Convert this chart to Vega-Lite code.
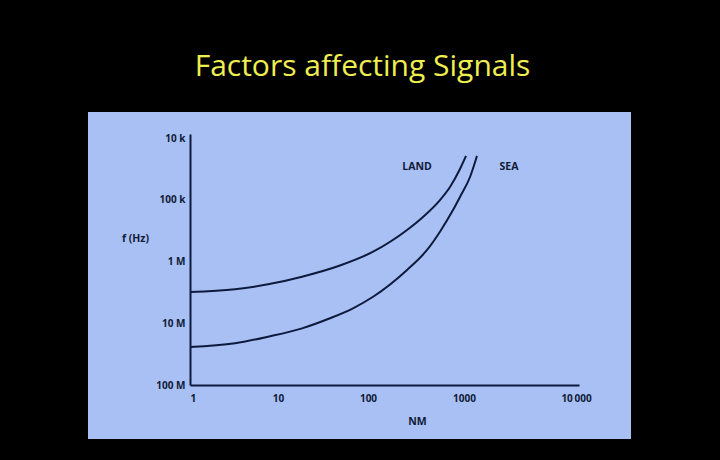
{
  "$schema": "https://vega.github.io/schema/vega-lite/v6.json",
  "autosize": {"type": "none"},
  "width": 543,
  "height": 327,
  "padding": {"left": 88, "top": 112, "right": 89, "bottom": 21},
  "background": "black",
  "view": {"fill": "#a8c0f4", "stroke": null},
  "title": {
    "text": "Factors affecting Signals",
    "color": "#eeee50",
    "font": "Open Sans",
    "fontSize": 30,
    "fontWeight": "normal",
    "anchor": "middle",
    "frame": "group",
    "baseline": "alphabetic",
    "offset": 6,
    "dx": 3
  },
  "datasets": {
    "curves": [
      {"series": "LAND", "nm": 1, "hz": 3120000},
      {"series": "LAND", "nm": 3.25, "hz": 2820000},
      {"series": "LAND", "nm": 7.7, "hz": 2340000},
      {"series": "LAND", "nm": 18.5, "hz": 1760000},
      {"series": "LAND", "nm": 48.8, "hz": 1160000},
      {"series": "LAND", "nm": 113, "hz": 694000},
      {"series": "LAND", "nm": 255, "hz": 309000},
      {"series": "LAND", "nm": 374, "hz": 190000},
      {"series": "LAND", "nm": 562, "hz": 101000},
      {"series": "LAND", "nm": 715, "hz": 62200},
      {"series": "LAND", "nm": 908, "hz": 31800},
      {"series": "LAND", "nm": 1042, "hz": 19500},
      {"series": "SEA", "nm": 1, "hz": 24300000},
      {"series": "SEA", "nm": 3.25, "hz": 21100000},
      {"series": "SEA", "nm": 7.7, "hz": 16500000},
      {"series": "SEA", "nm": 18.5, "hz": 12100000},
      {"series": "SEA", "nm": 37.8, "hz": 8310000},
      {"series": "SEA", "nm": 68.1, "hz": 5730000},
      {"series": "SEA", "nm": 113, "hz": 3720000},
      {"series": "SEA", "nm": 255, "hz": 1370000},
      {"series": "SEA", "nm": 412, "hz": 651000},
      {"series": "SEA", "nm": 562, "hz": 329000},
      {"series": "SEA", "nm": 768, "hz": 147000},
      {"series": "SEA", "nm": 908, "hz": 90200},
      {"series": "SEA", "nm": 1132, "hz": 42800},
      {"series": "SEA", "nm": 1306, "hz": 19500}
    ],
    "labels": [
      {"series": "LAND", "nm": 324, "hz": 29500},
      {"series": "SEA", "nm": 2520, "hz": 29500}
    ]
  },
  "encoding": {
    "x": {
      "field": "nm",
      "type": "quantitative",
      "title": "NM",
      "scale": {
        "type": "log",
        "domain": [1, 10, 100, 1000, 10000, 10650],
        "range": [102, 190, 280, 376, 488, 491],
        "nice": false
      },
      "axis": {
        "values": [1, 10, 100, 1000, 10000],
        "labelExpr": "datum.value >= 10000 ? '10\u2009000' : format(datum.value, 'd')",
        "offset": -54,
        "grid": false,
        "ticks": false,
        "domainColor": "#0e1a3c",
        "domainWidth": 2,
        "labelPadding": 8,
        "labelFont": "Open Sans",
        "labelFontWeight": "bold",
        "labelFontSize": 10,
        "labelColor": "#101a38",
        "titleFont": "Open Sans",
        "titleFontWeight": "bold",
        "titleFontSize": 10.5,
        "titleColor": "#101a38",
        "titleAnchor": "start",
        "titleAlign": "center",
        "titleBaseline": "middle",
        "titleX": 329,
        "titleY": 36
      }
    },
    "y": {
      "field": "hz",
      "type": "quantitative",
      "title": "f (Hz)",
      "scale": {
        "type": "log",
        "domain": [8611, 100000000],
        "range": [22, 273],
        "nice": false
      },
      "axis": {
        "values": [10000, 100000, 1000000, 10000000, 100000000],
        "labelExpr": "datum.value == 10000 ? '10 k' : datum.value == 100000 ? '100 k' : datum.value == 1000000 ? '1 M' : datum.value == 10000000 ? '10 M' : '100 M'",
        "offset": -102,
        "grid": false,
        "ticks": false,
        "domainColor": "#0e1a3c",
        "domainWidth": 2,
        "labelPadding": 5,
        "labelFont": "Open Sans",
        "labelFontWeight": "bold",
        "labelFontSize": 10,
        "labelColor": "#101a38",
        "titleFont": "Open Sans",
        "titleFontWeight": "bold",
        "titleFontSize": 10.5,
        "titleColor": "#101a38",
        "titleAngle": 0,
        "titleAnchor": "start",
        "titleAlign": "center",
        "titleBaseline": "middle",
        "titleX": -55,
        "titleY": 126
      }
    }
  },
  "layer": [
    {
      "data": {"name": "curves"},
      "mark": {"type": "line", "interpolate": "monotone", "strokeWidth": 2, "color": "#0e1a3c"},
      "encoding": {
        "detail": {"field": "series", "type": "nominal"}
      }
    },
    {
      "data": {"name": "labels"},
      "mark": {"type": "text", "font": "Open Sans", "fontWeight": "bold", "fontSize": 10.5, "color": "#101a38", "align": "center", "baseline": "middle"},
      "encoding": {
        "text": {"field": "series", "type": "nominal"}
      }
    }
  ]
}
